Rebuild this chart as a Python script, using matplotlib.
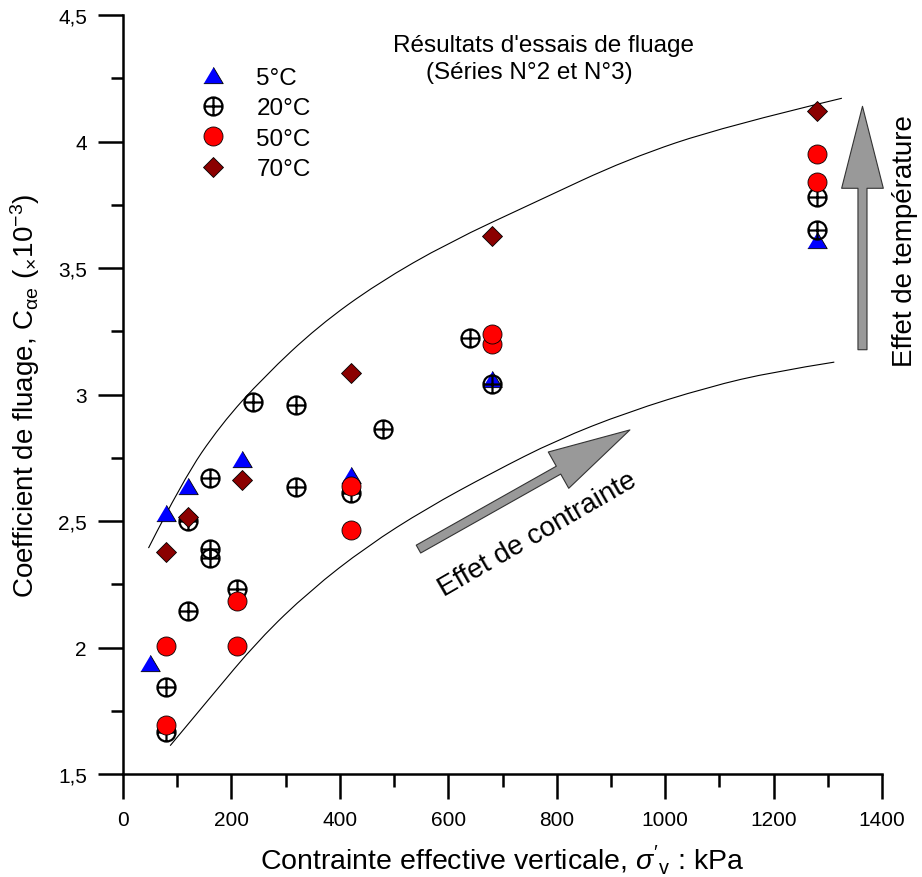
import numpy as np
import matplotlib
matplotlib.use('Agg')
import matplotlib.pyplot as plt
from matplotlib.path import Path
from matplotlib.patches import PathPatch
from matplotlib.ticker import MultipleLocator, FuncFormatter

plt.rcParams['font.family'] = ['Liberation Sans', 'DejaVu Sans']
plt.rcParams['mathtext.fontset'] = 'custom'
plt.rcParams['mathtext.rm'] = 'Liberation Sans'
plt.rcParams['mathtext.it'] = 'Liberation Sans:italic'
plt.rcParams['mathtext.bf'] = 'Liberation Sans:bold'

# ---------------- data ----------------
t5_x = [50, 80, 120, 220, 420, 680, 1280]
t5_y = [1.94, 2.53, 2.64, 2.745, 2.68, 3.06, 3.61]

t20_x = [80, 80, 120, 120, 160, 160, 160, 210, 240, 320, 320, 420, 480, 640, 680, 1280, 1280]
t20_y = [1.665, 1.845, 2.145, 2.50, 2.67, 2.39, 2.355, 2.23, 2.97, 2.96, 2.635, 2.61, 2.865, 3.225, 3.04, 3.65, 3.78]

t50_x = [80, 80, 210, 210, 420, 420, 680, 680, 1280, 1280]
t50_y = [1.695, 2.005, 2.185, 2.005, 2.637, 2.466, 3.20, 3.24, 3.95, 3.84]

t70_x = [80, 120, 220, 420, 680, 1280]
t70_y = [2.376, 2.515, 2.662, 3.085, 3.625, 4.12]

series_labels = ['5°C', '20°C', '50°C', '70°C']

# envelope curves (control points)
upper_x = [47, 110, 180, 260, 360, 470, 600, 760, 930, 1110, 1326]
upper_y = [2.393, 2.66, 2.88, 3.07, 3.27, 3.44, 3.60, 3.76, 3.93, 4.06, 4.171]
lower_x = [87, 160, 250, 345, 450, 560, 680, 800, 930, 1080, 1200, 1312]
lower_y = [1.612, 1.80, 2.03, 2.225, 2.40, 2.55, 2.69, 2.82, 2.93, 3.03, 3.09, 3.128]

# arrows (tail, tip)
arrow_stress = ((545, 2.389), (935, 2.86))
arrow_temp = ((1364, 3.177), (1364, 4.139))

x_ticks_major = 200
y_ticks_major = 0.5


def smooth_path(xs, ys):
    pts = list(zip(xs, ys))
    verts = [pts[0]]
    codes = [Path.MOVETO]
    for i in range(1, len(pts) - 1):
        ctrl = pts[i]
        if i < len(pts) - 2:
            end = ((pts[i][0] + pts[i + 1][0]) / 2, (pts[i][1] + pts[i + 1][1]) / 2)
        else:
            end = pts[-1]
        verts += [ctrl, end]
        codes += [Path.CURVE3, Path.CURVE3]
    return Path(verts, codes)


# ---------------- figure ----------------
fig = plt.figure(figsize=(9.22, 8.78), dpi=100)
ax = fig.add_axes([123 / 922, 1 - 775 / 878, 759 / 922, 759 / 878])

tri_marker = [(-1, -0.84), (1, -0.84), (0, 0.84)]
cplus_marker = Path.make_compound_path(Path.unit_circle(),
                                       Path([(-1, 0), (1, 0)]),
                                       Path([(0, -1), (0, 1)]))

for cx, cy in [(upper_x, upper_y), (lower_x, lower_y)]:
    ax.add_patch(PathPatch(smooth_path(cx, cy), fill=False, ec='black', lw=0.8, zorder=1))

h5, = ax.plot(t5_x, t5_y, ls='none', marker=tri_marker, ms=14, mfc='#0000FF',
              mec='black', mew=0.6, label=series_labels[0], zorder=3)
h20, = ax.plot(t20_x, t20_y, ls='none', marker=cplus_marker, ms=13, mfc='none',
               mec='black', mew=1.6, label=series_labels[1], zorder=3)
h50, = ax.plot(t50_x, t50_y, ls='none', marker='o', ms=13.7, mfc='#FF0000',
               mec='black', mew=0.6, label=series_labels[2], zorder=3)
h70, = ax.plot(t70_x, t70_y, ls='none', marker='D', ms=10.2, mfc='#8B0000',
               mec='black', mew=0.6, label=series_labels[3], zorder=3)

arrowprops = dict(arrowstyle='simple,head_length=59,head_width=30,tail_width=6.5',
                  mutation_scale=1, fc='#999999', ec='#333333', lw=0.8,
                  shrinkA=0, shrinkB=0)
ax.annotate('', xy=arrow_stress[1], xytext=arrow_stress[0], arrowprops=arrowprops)
ax.annotate('', xy=arrow_temp[1], xytext=arrow_temp[0], arrowprops=arrowprops)

ax.text(765, 2.449, 'Effet de contrainte', rotation=30, rotation_mode='anchor',
        ha='center', va='center', fontsize=20)
ax.text(1442, 3.611, 'Effet de température', rotation=90, ha='center', va='center',
        fontsize=20, clip_on=False)

ax.text(775, 4.381, "Résultats d'essais de fluage", ha='center', va='center', fontsize=17.5)
ax.text(749, 4.275, "(Séries N°2 et N°3)", ha='center', va='center', fontsize=17.5)

ax.legend(handles=[h5, h20, h50, h70], loc='upper left', bbox_to_anchor=(0.102, 0.932),
          frameon=False, fontsize=17.5, handlelength=1.0, handletextpad=1.3,
          labelspacing=0.35, borderpad=0, borderaxespad=0, numpoints=1)

ax.set_xlim(0, 1400)
ax.set_ylim(1.5, 4.5)
ax.xaxis.set_major_locator(MultipleLocator(x_ticks_major))
ax.xaxis.set_minor_locator(MultipleLocator(x_ticks_major / 2))
ax.yaxis.set_major_locator(MultipleLocator(y_ticks_major))
ax.yaxis.set_minor_locator(MultipleLocator(y_ticks_major / 2))
ax.yaxis.set_major_formatter(FuncFormatter(lambda v, p: f"{v:g}".replace('.', ',')))

for s in ['top', 'right']:
    ax.spines[s].set_visible(False)
for s in ['left', 'bottom']:
    ax.spines[s].set_linewidth(1.8)

ax.tick_params(which='major', direction='out', length=18, width=1.8, labelsize=15, pad=8)
ax.tick_params(which='minor', direction='out', length=9, width=1.8)

ax.set_xlabel(r"Contrainte effective verticale, $\mathit{σ}'_{\mathrm{v}}$ : kPa", fontsize=20.5)
ax.set_ylabel(r"Coefficient de fluage, C$_{\mathrm{αe}}$ ($_{\mathrm{×}}$10$^{\mathrm{-3}}$)", fontsize=20)
ax.xaxis.set_label_coords(0.5, -0.09)
ax.yaxis.set_label_coords(-0.107, 0.5)

fig.savefig('out.png', dpi=100)
